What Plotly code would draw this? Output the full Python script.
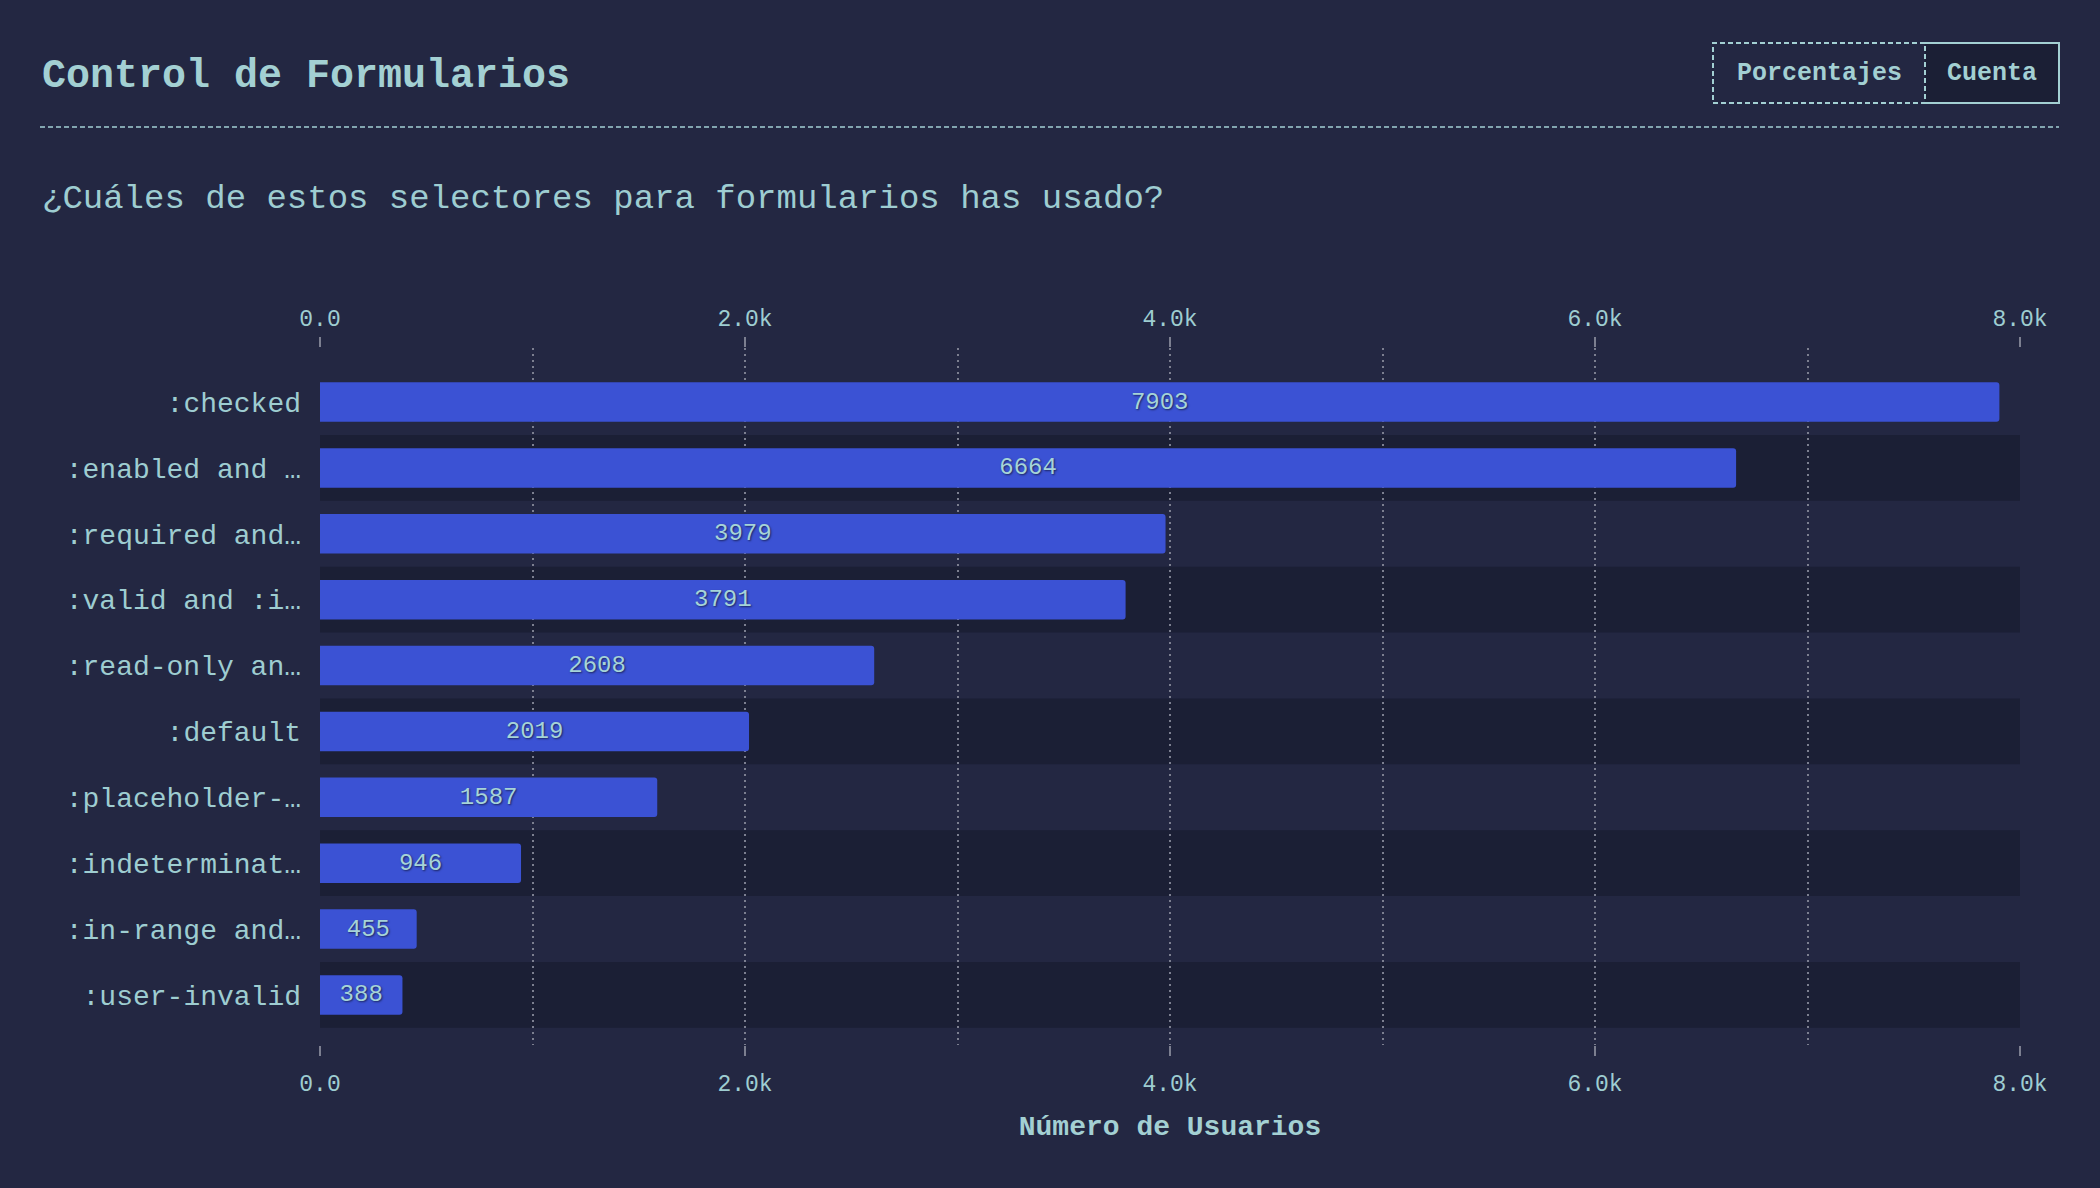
import plotly.graph_objects as go

# ---------------- data ----------------
categories = [
    ":checked",
    ":enabled and …",
    ":required and…",
    ":valid and :i…",
    ":read-only an…",
    ":default",
    ":placeholder-…",
    ":indeterminat…",
    ":in-range and…",
    ":user-invalid",
]
counts = [7903, 6664, 3979, 3791, 2608, 2019, 1587, 946, 455, 388]
tick_values = [0, 2000, 4000, 6000, 8000]
tick_labels = ["0.0", "2.0k", "4.0k", "6.0k", "8.0k"]

title_text = "Control de Formularios"
subtitle_text = "¿Cuáles de estos selectores para formularios has usado?"
axis_title = "Número de Usuarios"
buttons = ["Porcentajes", "Cuenta"]

# ---------------- style ----------------
W, H = 2100, 1188
ML, MR, MT, MB = 320, 80, 348, 143
PW, PH = W - ML - MR, H - MT - MB
BG = "#232742"
BAND = "#1b1f35"
BAR = "#3b52d4"
TXT = "#9ecdd1"
TITLE = "#a3d0d3"
GRID = "#7c7f90"
FONT = "Liberation Mono, DejaVu Sans Mono, monospace"


def px_x(px):
    return (px - ML) / PW


def px_y(py):
    return (H - MB - py) / PH


fig = go.Figure()
fig.add_trace(
    go.Bar(
        x=counts,
        y=categories,
        orientation="h",
        marker=dict(color=BAR, cornerradius=3, line=dict(width=0)),
        width=0.6,
        text=[str(c) for c in counts],
        textposition="inside",
        insidetextanchor="middle",
        textangle=0,
        textfont=dict(family=FONT, size=24, color="#a6d4d8",
                      shadow="1px 1px 2px rgba(0,0,0,0.55)"),
        hoverinfo="skip",
        cliponaxis=False,
    )
)
# invisible companion trace so the top axis is drawn
fig.add_trace(
    go.Scatter(
        x=counts,
        y=categories,
        xaxis="x2",
        mode="markers",
        marker=dict(opacity=0),
        hoverinfo="skip",
        showlegend=False,
    )
)

shapes = []
# alternating row bands
for i, _ in enumerate(categories):
    if i % 2 == 1:
        shapes.append(dict(type="rect", xref="x", yref="y", x0=0, x1=tick_values[-1],
                           y0=i - 0.5, y1=i + 0.5, fillcolor=BAND, line=dict(width=0),
                           layer="below"))

# dashed separator under title
shapes.append(dict(type="line", xref="paper", yref="paper", x0=px_x(40), x1=px_x(2059),
                   y0=px_y(127), y1=px_y(127), line=dict(color=TITLE, width=1.5, dash="5px,3px")))

# buttons
bx0, bmid, bx1, by0, by1 = 1713, 1925, 2059, 43, 103
shapes.append(dict(type="rect", xref="paper", yref="paper", x0=px_x(bmid), x1=px_x(bx1),
                   y0=px_y(by1), y1=px_y(by0), fillcolor=BAND, line=dict(width=0)))
shapes.append(dict(type="path", xref="paper", yref="paper",
                   path=f"M {px_x(bmid)},{px_y(by0)} L {px_x(bx1)},{px_y(by0)} L {px_x(bx1)},{px_y(by1)} L {px_x(bmid)},{px_y(by1)}",
                   line=dict(color=TITLE, width=2)))
shapes.append(dict(type="rect", xref="paper", yref="paper", x0=px_x(bx0), x1=px_x(bmid),
                   y0=px_y(by1), y1=px_y(by0), line=dict(color=TITLE, width=2, dash="5px,3px")))

annotations = [
    dict(text=title_text, xref="paper", yref="paper", x=px_x(40), y=px_y(76),
         xanchor="left", yanchor="middle", showarrow=False,
         font=dict(family=FONT, size=40, color=TITLE, weight="bold")),
    dict(text=subtitle_text, xref="paper", yref="paper", x=px_x(40), y=px_y(199),
         xanchor="left", yanchor="middle", showarrow=False,
         font=dict(family=FONT, size=34, color=TXT)),
    dict(text=buttons[0], xref="paper", yref="paper", x=px_x((bx0 + bmid) / 2), y=px_y(73),
         xanchor="center", yanchor="middle", showarrow=False,
         font=dict(family=FONT, size=25, color=TITLE, weight="bold")),
    dict(text=buttons[1], xref="paper", yref="paper", x=px_x((bmid + bx1) / 2), y=px_y(73),
         xanchor="center", yanchor="middle", showarrow=False,
         font=dict(family=FONT, size=25, color=TITLE, weight="bold")),
]

axis_common = dict(
    range=[tick_values[0], tick_values[-1]],
    tickmode="array",
    tickvals=tick_values,
    ticktext=tick_labels,
    ticks="outside",
    ticklen=10,
    tickwidth=1.5,
    tickcolor=GRID,
    tickfont=dict(family=FONT, size=23, color=TXT),
    showline=False,
    zeroline=False,
    automargin=False,
    fixedrange=True,
)

fig.update_layout(
    width=W,
    height=H,
    paper_bgcolor=BG,
    plot_bgcolor=BG,
    margin=dict(l=ML, r=MR, t=MT, b=MB, pad=0),
    showlegend=False,
    bargap=0.4,
    shapes=shapes,
    annotations=annotations,
    uniformtext=dict(minsize=23, mode="show"),
    xaxis=dict(
        **axis_common,
        showgrid=True,
        gridcolor=GRID,
        gridwidth=2,
        griddash="2px,4px",
        minor=dict(dtick=1000, tick0=0, showgrid=True, gridcolor=GRID, gridwidth=2,
                   griddash="2px,4px", ticks=""),
        ticklabelstandoff=7,
        title=dict(text=axis_title, standoff=18,
                   font=dict(family=FONT, size=28, color=TITLE, weight="bold")),
    ),
    xaxis2=dict(
        **axis_common,
        overlaying="x",
        side="top",
        anchor="y",
        showgrid=False,
        ticklabelstandoff=2,
    ),
    yaxis=dict(
        categoryorder="array",
        categoryarray=categories,
        range=[len(categories) - 1 + 0.76, -0.82],
        showgrid=False,
        zeroline=False,
        showline=False,
        ticks="",
        ticklabelstandoff=18,
        tickfont=dict(family=FONT, size=28, color=TXT),
        automargin=False,
        fixedrange=True,
    ),
)

fig.write_html(
    "out.html",
    config={"displayModeBar": False},
    post_script="document.body.style.margin='0';document.body.style.background='" + BG + "';",
)
